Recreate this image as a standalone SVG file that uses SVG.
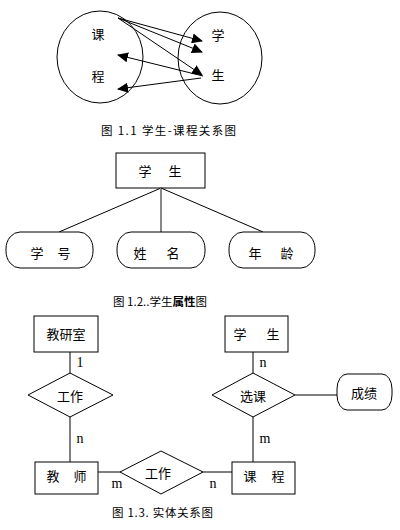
<svg xmlns="http://www.w3.org/2000/svg" width="400" height="530" viewBox="0 0 400 530">
<style>
.s{fill:none;stroke:#000;stroke-width:1}
.b{fill:#fff;stroke:#000;stroke-width:1}
.t{font-family:"Noto Sans CJK SC","Noto Sans",sans-serif;font-size:13px;fill:#000;text-anchor:middle;dominant-baseline:central}
.c{font-family:"Noto Sans CJK SC","Noto Sans",sans-serif;font-size:11.5px;fill:#000;dominant-baseline:central}
.l{font-family:"Liberation Serif",serif;font-size:14px;fill:#000;text-anchor:middle;dominant-baseline:central}
</style>
<defs>
<marker id="ah" markerWidth="11" markerHeight="10" refX="10" refY="5" orient="auto" markerUnits="userSpaceOnUse">
<path d="M0,0 L11,5 L0,10 Z" fill="#000"/>
</marker>
</defs>

<!-- Figure 1.1 -->
<g id="set-course">
<ellipse class="s" cx="100" cy="57" rx="43" ry="46"/>
<text class="t" x="98" y="33">课</text>
<text class="t" x="98" y="75">程</text>
</g>
<g id="set-student">
<ellipse class="s" cx="220" cy="58" rx="42" ry="46"/>
<text class="t" x="218" y="34">学</text>
<text class="t" x="218" y="74">生</text>
</g>
<g id="connectors-1">
<line class="s" x1="118" y1="18" x2="202" y2="41" marker-end="url(#ah)"/>
<line class="s" x1="118" y1="18" x2="202" y2="52" marker-end="url(#ah)"/>
<line class="s" x1="118" y1="18" x2="202" y2="75" marker-end="url(#ah)"/>
<line class="s" x1="203" y1="76" x2="118" y2="55" marker-end="url(#ah)"/>
<line class="s" x1="201" y1="78" x2="118" y2="89" marker-end="url(#ah)"/>
</g>
<text class="c" x="101" y="130" textLength="135" lengthAdjust="spacing">图 1.1 学生-课程关系图</text>

<!-- Figure 1.2 -->
<g id="student-entity">
<rect class="b" x="116" y="153" width="89" height="35"/>
<text class="t" x="145" y="170">学</text>
<text class="t" x="175" y="170">生</text>
</g>
<g id="connectors-2">
<line class="s" x1="161" y1="188" x2="59" y2="232"/>
<line x1="161" y1="188" x2="161" y2="232" stroke="#888" stroke-width="2"/>
<line class="s" x1="161" y1="188" x2="263" y2="232"/>
</g>
<g id="attr-id">
<rect class="b" x="6" y="232" width="87" height="36" rx="14" ry="17"/>
<text class="t" x="37" y="252">学</text>
<text class="t" x="64" y="252">号</text>
</g>
<g id="attr-name">
<rect class="b" x="117" y="232" width="88" height="36" rx="14" ry="17"/>
<text class="t" x="140" y="252">姓</text>
<text class="t" x="173" y="252">名</text>
</g>
<g id="attr-age">
<rect class="b" x="229" y="232" width="86" height="36" rx="14" ry="17"/>
<text class="t" x="255" y="252">年</text>
<text class="t" x="287" y="252">龄</text>
</g>
<text class="c" x="113" y="301" textLength="94" lengthAdjust="spacing">图 1.2..学生<tspan font-weight="bold">属性</tspan>图</text>

<!-- Figure 1.3 -->
<g id="connectors-3">
<line class="s" x1="70" y1="352" x2="70" y2="462"/>
<line class="s" x1="253" y1="352" x2="253" y2="462"/>
<line class="s" x1="295" y1="395" x2="337" y2="395"/>
<line class="s" x1="98" y1="472" x2="232" y2="472"/>
<text class="l" x="80" y="362">1</text>
<text class="l" x="263" y="362">n</text>
<text class="l" x="80" y="438">n</text>
<text class="l" x="265" y="438">m</text>
<text class="l" x="117" y="483">m</text>
<text class="l" x="213" y="483">n</text>
</g>
<g id="dept">
<rect class="b" x="34" y="316" width="64" height="36"/>
<text class="t" x="66" y="333">教研室</text>
</g>
<g id="student">
<rect class="b" x="225" y="316" width="63" height="36"/>
<text class="t" x="240" y="333">学</text>
<text class="t" x="273" y="333">生</text>
</g>
<g id="work-1">
<path class="b" d="M70,373 L113,395 L70,417 L28,395 Z"/>
<text class="t" x="70" y="395">工作</text>
</g>
<g id="select">
<path class="b" d="M253,373 L295,395 L253,417 L212,395 Z"/>
<text class="t" x="253" y="395">选课</text>
</g>
<g id="grade">
<rect class="b" x="337" y="374" width="55" height="36" rx="10" ry="15"/>
<text class="t" x="364" y="392">成绩</text>
</g>
<g id="teacher">
<rect class="b" x="35" y="462" width="63" height="32"/>
<text class="t" x="53" y="475">教</text>
<text class="t" x="80" y="475">师</text>
</g>
<g id="work-2">
<path class="b" d="M161,451 L203,472 L161,494 L120,472 Z"/>
<text class="t" x="158" y="472">工作</text>
</g>
<g id="course">
<rect class="b" x="232" y="462" width="63" height="32"/>
<text class="t" x="250" y="475">课</text>
<text class="t" x="278" y="475">程</text>
</g>
<text class="c" x="112" y="512" textLength="101" lengthAdjust="spacing">图 1.3.  实体关系图</text>
</svg>
